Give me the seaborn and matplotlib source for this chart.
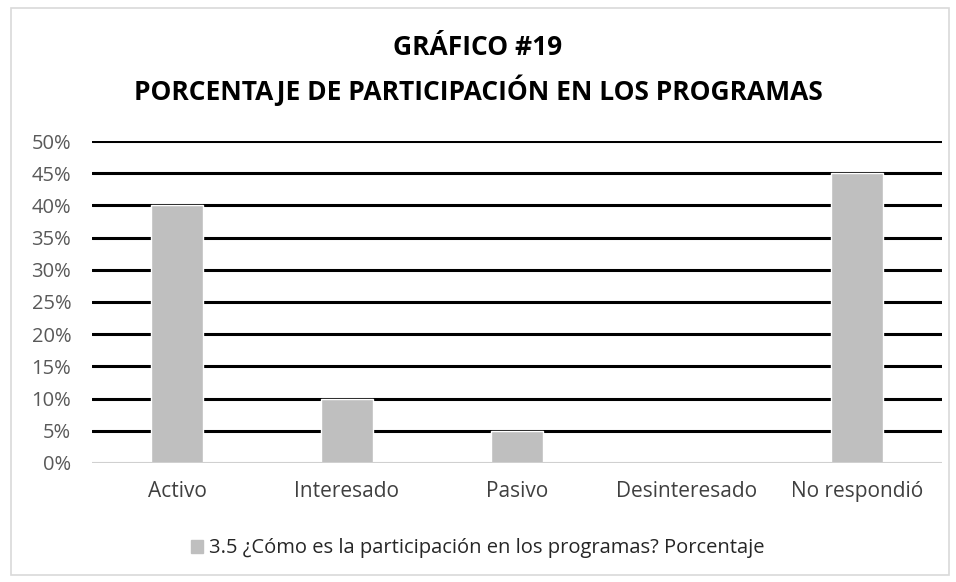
import numpy as np
import pandas as pd
import matplotlib
matplotlib.use('Agg')
import matplotlib.pyplot as plt
import matplotlib.patches as mpatches
import seaborn as sb

# chart data
categories = ['Activo', 'Interesado', 'Pasivo', 'Desinteresado', 'No respondió']
porcentaje = [40, 10, 5, 0, 45]
yticks = [0, 5, 10, 15, 20, 25, 30, 35, 40, 45, 50]
legend_label = '3.5 ¿Cómo es la participación en los programas? Porcentaje'

sb.set_style('white')
plt.rcParams['font.family'] = ['Open Sans', 'DejaVu Sans']

df = pd.DataFrame({'cat': categories, 'val': porcentaje})

fig = plt.figure(figsize=(9.56, 5.82), dpi=100)
ax = fig.add_axes([0.0962, 0.2045, 0.8892, 0.5532])

# Gridlines behind the bars
for t in yticks[1:]:
    ax.axhline(t, color='black', linewidth=2.2, zorder=0)
ax.axhline(0, color='#d0d0d0', linewidth=1.5, zorder=3)

sb.barplot(data=df, x='cat', y='val', color='#bfbfbf', width=0.31,
           saturation=1, ax=ax, zorder=2)

ax.set_ylim(0, 50)
ax.set_xlim(-0.5, 4.5)
ax.set_yticks(yticks)
ax.set_yticklabels([f'{t}%' for t in yticks], color='#595959', fontsize=14.5)
ax.set_xticklabels(categories, color='#404040', fontsize=15)
ax.tick_params(axis='y', length=0, pad=15)
ax.tick_params(axis='x', length=0, pad=13)
ax.set_xlabel('')
ax.set_ylabel('')
for s in ax.spines.values():
    s.set_visible(False)

fig.text(0.5, 0.919, 'GRÁFICO #19', ha='center', va='center',
         fontsize=19, fontweight='bold', color='black')
fig.text(0.5, 0.845, 'PORCENTAJE DE PARTICIPACIÓN EN LOS PROGRAMAS', ha='center',
         va='center', fontsize=19, fontweight='bold', color='black')

handle = mpatches.Patch(color='#bfbfbf', label=legend_label)
fig.legend(handles=[handle], loc='center', bbox_to_anchor=(0.5, 0.058),
           frameon=False, fontsize=14.5, handlelength=0.6, handleheight=0.6,
           handletextpad=0.3, labelcolor='#262626')

# light frame around the chart
fig.patches.append(mpatches.Rectangle((0.011, 0.012), 0.982, 0.975,
                                      transform=fig.transFigure, fill=False,
                                      edgecolor='#d9d9d9', linewidth=1.2))

fig.savefig('out.png', dpi=100)
